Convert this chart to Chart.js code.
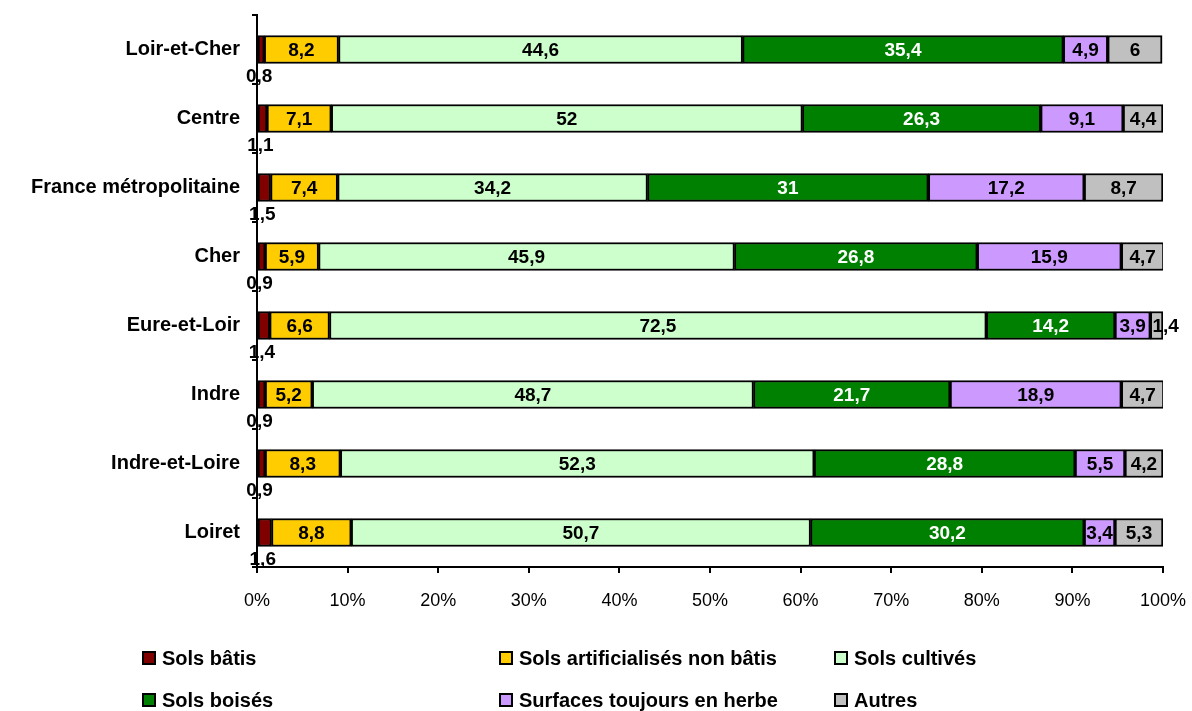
<!DOCTYPE html>
<html>
<head>
<meta charset="utf-8">
<script src="https://cdn.jsdelivr.net/npm/chart.js@4/dist/chart.umd.min.js"></script>
<style>
html,body{margin:0;padding:0;background:#fff;}
#wrap{position:relative;width:1192px;height:711px;}
</style>
</head>
<body>
<div id="wrap"><canvas id="c" width="1192" height="711"></canvas></div>
<script>
const categories = ["Loir-et-Cher","Centre","France métropolitaine","Cher","Eure-et-Loir","Indre","Indre-et-Loire","Loiret"];
const seriesNames = ["Sols bâtis","Sols artificialisés non bâtis","Sols cultivés","Sols boisés","Surfaces toujours en herbe","Autres"];
const solsBatis = [0.8,1.1,1.5,0.9,1.4,0.9,0.9,1.6];
const solsArtificialises = [8.2,7.1,7.4,5.9,6.6,5.2,8.3,8.8];
const solsCultives = [44.6,52,34.2,45.9,72.5,48.7,52.3,50.7];
const solsBoises = [35.4,26.3,31,26.8,14.2,21.7,28.8,30.2];
const surfacesHerbe = [4.9,9.1,17.2,15.9,3.9,18.9,5.5,3.4];
const autres = [6,4.4,8.7,4.7,1.4,4.7,4.2,5.3];
const xTicks = [0,10,20,30,40,50,60,70,80,90,100];

const colors = ["#800000","#FFCC00","#CCFFCC","#008000","#CC99FF","#C0C0C0"];
const labelColors = ["#000","#000","#000","#fff","#000","#000"];
const seriesData = [solsBatis,solsArtificialises,solsCultives,solsBoises,surfacesHerbe,autres];

const FONT = "'Liberation Sans', Arial, sans-serif";

const datasets = seriesData.map((d,i)=>({
  label: seriesNames[i],
  data: d,
  backgroundColor: colors[i],
  borderColor: "#000",
  borderWidth: 2,
  borderSkipped: false,
  barThickness: 28
}));

function fmt(v){ return String(v).replace('.', ','); }

const labelPlugin = {
  id: 'segLabels',
  afterDatasetsDraw(chart){
    const ctx = chart.ctx;
    ctx.save();
    ctx.font = "bold 19px " + FONT;
    ctx.textAlign = 'center';
    ctx.textBaseline = 'middle';
    chart.data.datasets.forEach((ds, di)=>{
      const meta = chart.getDatasetMeta(di);
      meta.data.forEach((el, i)=>{
        const v = ds.data[i];
        const cx = (el.x + el.base)/2;
        let cy = el.y;
        ctx.fillStyle = labelColors[di];
        if (di === 0) { ctx.fillText(fmt(v), cx - 2, el.y + 27); }
        else if (di === 5 && v < 2) { ctx.fillText(fmt(v), cx + 9, cy + 1); }
        else ctx.fillText(fmt(v), cx, cy + 1);
      });
    });
    ctx.restore();
  }
};

const legendPlugin = {
  id: 'gridLegend',
  afterDraw(chart){
    const ctx = chart.ctx;
    const cols = [142, 499, 834];
    const rows = [658, 700];
    ctx.save();
    ctx.font = "bold 20px " + FONT;
    ctx.textBaseline = 'middle';
    ctx.textAlign = 'left';
    seriesNames.forEach((n, i)=>{
      const x = cols[i % 3], y = rows[Math.floor(i/3)];
      ctx.fillStyle = colors[i];
      ctx.fillRect(x, y-7, 14, 14);
      ctx.strokeStyle = '#000';
      ctx.lineWidth = 2;
      ctx.strokeRect(x+1, y-6, 12, 12);
      ctx.fillStyle = '#000';
      ctx.fillText(n, x + 20, y + 1);
    });
    ctx.restore();
  }
};

function zeroPad(scale){
  scale.paddingTop = 0; scale.paddingBottom = 0;
  scale.paddingLeft = 0; scale.paddingRight = 0;
}

new Chart(document.getElementById('c'), {
  type: 'bar',
  data: { labels: categories, datasets },
  options: {
    indexAxis: 'y',
    responsive: false,
    animation: false,
    devicePixelRatio: 1,
    layout: { padding: { left: 0, right: 29, top: 15, bottom: 0 } },
    plugins: { legend: { display: false }, tooltip: { enabled: false } },
    scales: {
      x: {
        stacked: true,
        min: 0, max: 100,
        afterBuildTicks(scale){ scale.ticks = xTicks.map(v=>({value:v})); },
        afterFit(scale){ scale.height = 144; zeroPad(scale); },
        ticks: { callback: v => v + '%', color: '#000', font: { family: FONT, size: 18 }, padding: 17, maxRotation: 0 },
        grid: { display: true, drawOnChartArea: false, drawTicks: true, tickLength: 6, color: '#000', lineWidth: 2 },
        border: { display: true, color: '#000', width: 2 }
      },
      y: {
        stacked: true,
        afterFit(scale){ scale.width = 257; zeroPad(scale); },
        ticks: { color: '#000', font: { family: FONT, size: 20, weight: 'bold' }, padding: 12 },
        grid: { display: true, drawOnChartArea: false, offset: true, tickLength: 5, color: '#000', lineWidth: 2 },
        border: { display: true, color: '#000', width: 2 }
      }
    }
  },
  plugins: [labelPlugin, legendPlugin]
});
</script>
</body>
</html>
